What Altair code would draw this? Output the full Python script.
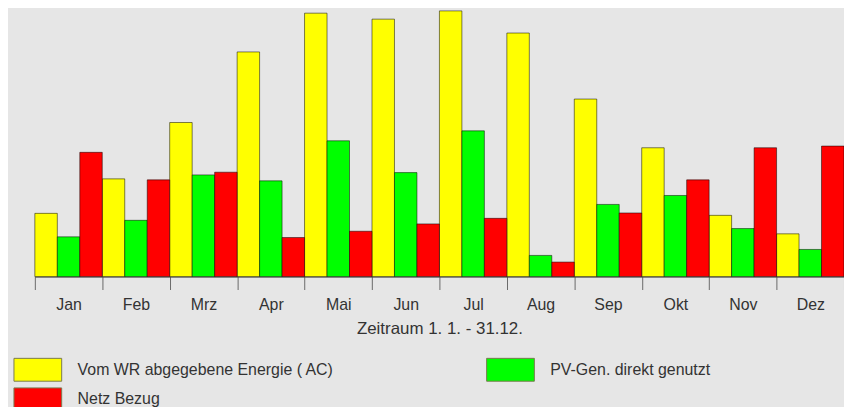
import altair as alt
import pandas as pd

months = ["Jan", "Feb", "Mrz", "Apr", "Mai", "Jun", "Jul", "Aug", "Sep", "Okt", "Nov", "Dez"]
series = ["Vom WR abgegebene Energie ( AC)", "PV-Gen. direkt genutzt", "Netz Bezug"]
wr_energie = [63.6, 98.3, 155.0, 226.0, 265.0, 259.0, 267.3, 245.0, 178.6, 129.6, 61.6, 43.0]
pv_direkt = [40.0, 56.6, 102.3, 96.3, 136.6, 104.6, 146.6, 21.3, 72.6, 81.6, 48.3, 27.3]
netz_bezug = [125.0, 97.3, 105.0, 39.3, 45.6, 53.0, 58.6, 14.6, 64.0, 97.3, 129.6, 131.3]
colors = ["#FFFF00", "#00FF00", "#FF0000"]

# legend order (column-major in a 2-column grid): Vom WR / Netz Bezug | PV-Gen.
legend_order = [series[0], series[2], series[1]]
legend_colors = [colors[0], colors[2], colors[1]]

rows = []
for vals, s in zip([wr_energie, pv_direkt, netz_bezug], series):
    for m, v in zip(months, vals):
        rows.append({"Monat": m, "Serie": s, "Wert": v})
df = pd.DataFrame(rows)

font = "Liberation Sans"

chart = alt.Chart(df).mark_bar(stroke="#000000", strokeOpacity=0.5, strokeWidth=1).encode(
    x=alt.X(
        "Monat:N",
        sort=months,
        scale=alt.Scale(paddingInner=0, paddingOuter=0),
        axis=alt.Axis(
            title="Zeitraum 1. 1. - 31.12.",
            labelAngle=0,
            tickBand="extent",
            tickSize=13,
            tickColor="#6a6a6a",
            domainColor="#444444",
            labelFontSize=16,
            labelColor="#333333",
            labelFont=font,
            labelPadding=7,
            titleFontSize=17,
            titleFont=font,
            titleColor="#333333",
            titleFontWeight="normal",
            titlePadding=8,
        ),
    ),
    xOffset=alt.XOffset("Serie:N", sort=series, scale=alt.Scale(paddingInner=0, paddingOuter=0)),
    y=alt.Y("Wert:Q", scale=alt.Scale(domain=[0, 269], nice=False, zero=True), axis=None),
    color=alt.Color(
        "Serie:N",
        sort=legend_order,
        scale=alt.Scale(domain=legend_order, range=legend_colors),
        legend=alt.Legend(
            title=None,
            orient="none",
            legendX=-5,
            legendY=354.5,
            columns=2,
            columnPadding=151.5,
            rowPadding=2,
            symbolType="M-4.8,-2.3H4.8V2.3H-4.8Z",
            symbolSize=100,
            symbolStrokeColor="#7a7a50",
            symbolStrokeWidth=1,
            symbolOpacity=1,
            labelFontSize=16,
            labelFont=font,
            labelColor="#333333",
            labelOffset=32,
            labelLimit=400,
        ),
    ),
).properties(
    width=814,
    height=269,
    background="#e6e6e6",
    autosize=alt.AutoSizeParams(type="none"),
    padding={"left": 27, "top": 0, "right": 0, "bottom": 130},
).configure_view(stroke="transparent")

chart.save("out.html", embed_options={"renderer": "svg", "actions": False})
